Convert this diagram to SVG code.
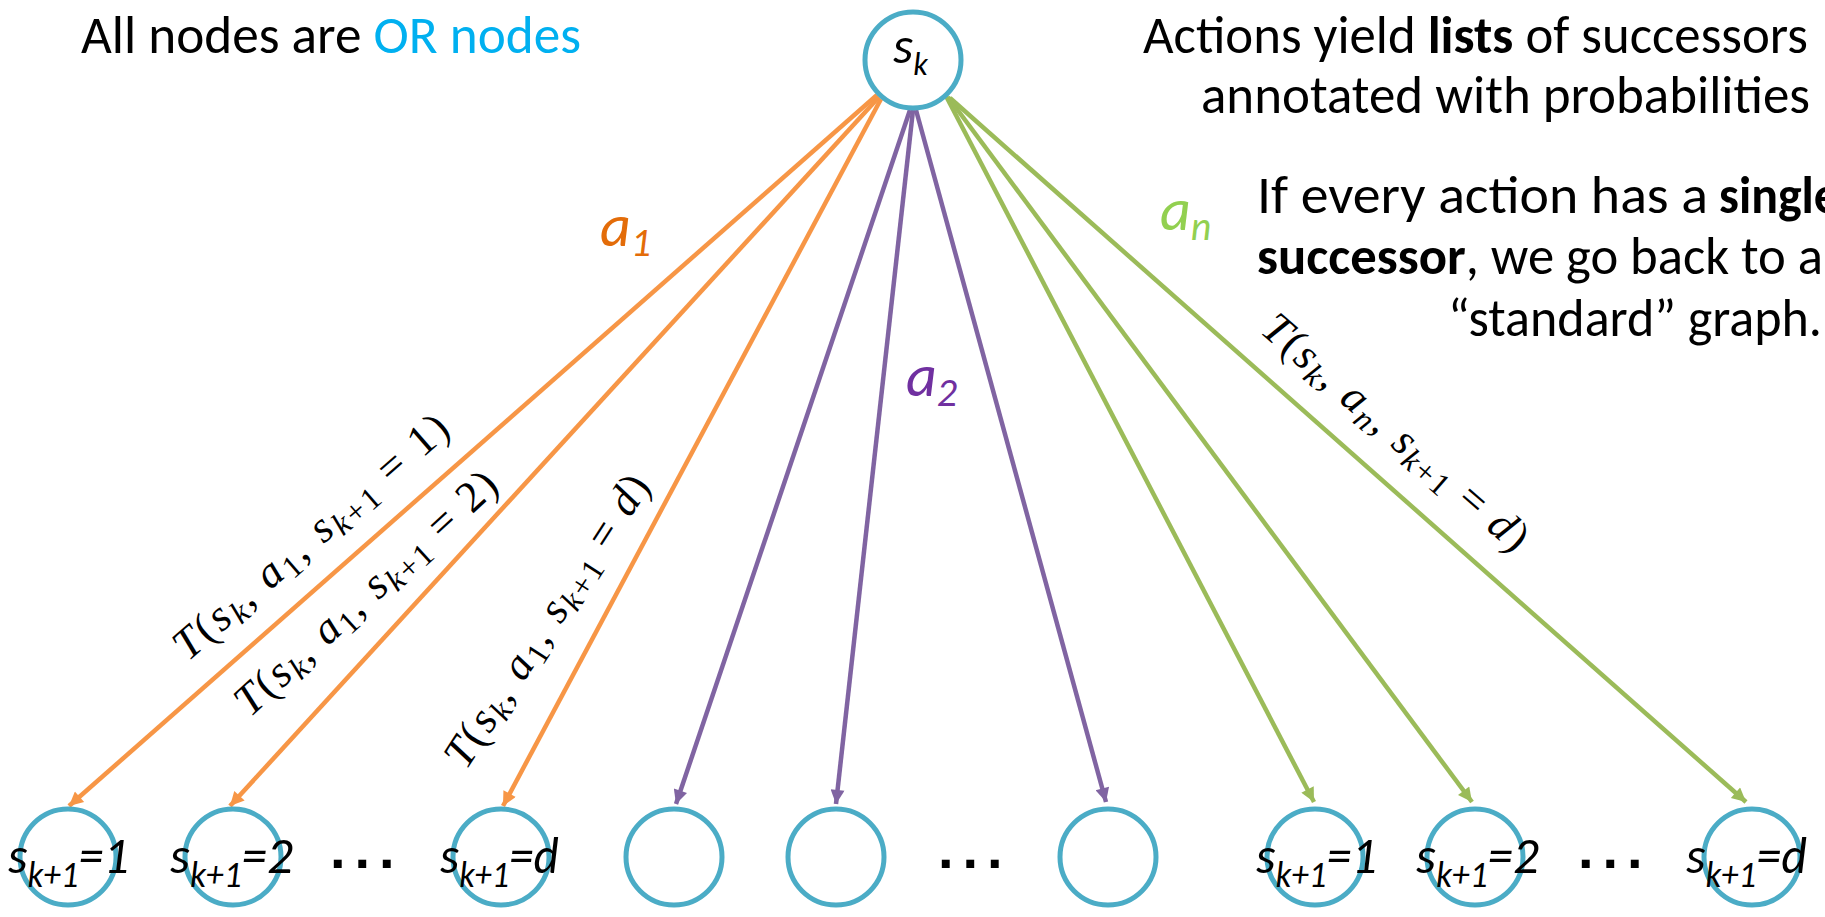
<svg xmlns="http://www.w3.org/2000/svg" width="1825" height="917" viewBox="0 0 1825 917">
<style>
.node{fill:#fff;stroke:#4BACC6;stroke-width:5}
.txt{font-family:Carlito,Calibri,"Liberation Sans",Arial,sans-serif;font-size:53px;fill:#000}
.b{font-weight:bold}
.lbl{font-family:Carlito,Calibri,"Liberation Sans",Arial,sans-serif;font-style:italic;font-size:52px;fill:#000}
.act{font-family:Carlito,Calibri,"Liberation Sans",Arial,sans-serif;font-style:italic;font-size:60px}
.math{font-family:"Liberation Serif","Times New Roman",serif;font-size:44px;fill:#000}
.i{font-style:italic}
.dots{font-family:"Liberation Sans",Arial,sans-serif;font-weight:bold;font-size:56px;fill:#000;letter-spacing:9px}
.or{stroke:#F79646;stroke-width:4.5;fill:none}
.pu{stroke:#8064A2;stroke-width:4.5;fill:none}
.gr{stroke:#9BBB59;stroke-width:4.5;fill:none}
</style>
<defs>
<marker id="ao" viewBox="0 0 10 10" refX="10" refY="5" markerUnits="userSpaceOnUse" markerWidth="17" markerHeight="14" orient="auto"><path d="M0,0 L10,5 L0,10 z" fill="#F79646"/></marker>
<marker id="ap" viewBox="0 0 10 10" refX="10" refY="5" markerUnits="userSpaceOnUse" markerWidth="17" markerHeight="14" orient="auto"><path d="M0,0 L10,5 L0,10 z" fill="#8064A2"/></marker>
<marker id="ag" viewBox="0 0 10 10" refX="10" refY="5" markerUnits="userSpaceOnUse" markerWidth="17" markerHeight="14" orient="auto"><path d="M0,0 L10,5 L0,10 z" fill="#9BBB59"/></marker>
</defs>
<rect width="1825" height="917" fill="#fff"/>

<g id="connectors">
<line class="or" x1="877" y1="95" x2="69" y2="806" marker-end="url(#ao)"/>
<line class="or" x1="879" y1="97" x2="230" y2="806" marker-end="url(#ao)"/>
<line class="or" x1="881" y1="99" x2="503" y2="806" marker-end="url(#ao)"/>
<line class="pu" x1="910" y1="110" x2="676" y2="804" marker-end="url(#ap)"/>
<line class="pu" x1="913" y1="110" x2="836" y2="804" marker-end="url(#ap)"/>
<line class="pu" x1="916" y1="110" x2="1106" y2="802" marker-end="url(#ap)"/>
<line class="gr" x1="946" y1="96" x2="1314" y2="802" marker-end="url(#ag)"/>
<line class="gr" x1="948" y1="97" x2="1472" y2="802" marker-end="url(#ag)"/>
<line class="gr" x1="950" y1="98" x2="1746" y2="802" marker-end="url(#ag)"/>
</g>

<g id="connector-labels">
<text class="act" x="600" y="246" fill="#E36C09">a<tspan font-size="40" dy="10">1</tspan></text>
<text class="act" x="906" y="396" fill="#7030A0">a<tspan font-size="40" dy="10">2</tspan></text>
<text class="act" x="1160" y="230" fill="#92D050">a<tspan font-size="40" dy="10">n</tspan></text>

<text class="math" transform="translate(188,662) rotate(-41)" textLength="350"><tspan class="i">T</tspan>(<tspan class="i">s</tspan><tspan class="i" font-size="32" dy="7">k</tspan><tspan dy="-7">, </tspan><tspan class="i">a</tspan><tspan font-size="32" dy="7">1</tspan><tspan dy="-7">, </tspan><tspan class="i">s</tspan><tspan font-size="32" dy="7"><tspan class="i">k</tspan>+1</tspan><tspan dy="-7"> = 1)</tspan></text>
<text class="math" transform="translate(250,718) rotate(-42.5)" textLength="340"><tspan class="i">T</tspan>(<tspan class="i">s</tspan><tspan class="i" font-size="32" dy="7">k</tspan><tspan dy="-7">, </tspan><tspan class="i">a</tspan><tspan font-size="32" dy="7">1</tspan><tspan dy="-7">, </tspan><tspan class="i">s</tspan><tspan font-size="32" dy="7"><tspan class="i">k</tspan>+1</tspan><tspan dy="-7"> = 2)</tspan></text>
<text class="math" transform="translate(466,771) rotate(-57)" textLength="340"><tspan class="i">T</tspan>(<tspan class="i">s</tspan><tspan class="i" font-size="32" dy="7">k</tspan><tspan dy="-7">, </tspan><tspan class="i">a</tspan><tspan font-size="32" dy="7">1</tspan><tspan dy="-7">, </tspan><tspan class="i">s</tspan><tspan font-size="32" dy="7"><tspan class="i">k</tspan>+1</tspan><tspan dy="-7"> = </tspan><tspan class="i">d</tspan>)</text>
<text class="math" transform="translate(1259,332) rotate(41)" textLength="338"><tspan class="i">T</tspan>(<tspan class="i">s</tspan><tspan class="i" font-size="32" dy="7">k</tspan><tspan dy="-7">, </tspan><tspan class="i">a</tspan><tspan class="i" font-size="32" dy="7">n</tspan><tspan dy="-7">, </tspan><tspan class="i">s</tspan><tspan font-size="32" dy="7"><tspan class="i">k</tspan>+1</tspan><tspan dy="-7"> = </tspan><tspan class="i">d</tspan>)</text>
</g>

<g id="node-root">
<circle class="node" cx="913" cy="60" r="48"/>
<text class="lbl" x="893" y="63" font-size="50">s<tspan font-size="32" dy="12">k</tspan></text>
</g>

<g id="node-a1-1"><circle class="node" cx="68" cy="857" r="48"/>
<text class="lbl" x="8" y="873" textLength="121" lengthAdjust="spacingAndGlyphs">s<tspan font-size="36" dy="14">k+1</tspan><tspan dy="-14">=1</tspan></text></g>
<g id="node-a1-2"><circle class="node" cx="233" cy="857" r="48"/>
<text class="lbl" x="170" y="873" textLength="123" lengthAdjust="spacingAndGlyphs">s<tspan font-size="36" dy="14">k+1</tspan><tspan dy="-14">=2</tspan></text></g>
<g id="node-a1-d"><circle class="node" cx="501" cy="857" r="48"/>
<text class="lbl" x="440" y="873" textLength="119" lengthAdjust="spacingAndGlyphs">s<tspan font-size="36" dy="14">k+1</tspan><tspan dy="-14">=d</tspan></text></g>
<g id="node-a2-1"><circle class="node" cx="674" cy="857" r="48"/></g>
<g id="node-a2-2"><circle class="node" cx="836" cy="857" r="48"/></g>
<g id="node-a2-3"><circle class="node" cx="1108" cy="857" r="48"/></g>
<g id="node-an-1"><circle class="node" cx="1315" cy="857" r="48"/>
<text class="lbl" x="1256" y="873" textLength="121" lengthAdjust="spacingAndGlyphs">s<tspan font-size="36" dy="14">k+1</tspan><tspan dy="-14">=1</tspan></text></g>
<g id="node-an-2"><circle class="node" cx="1475" cy="857" r="48"/>
<text class="lbl" x="1416" y="873" textLength="123" lengthAdjust="spacingAndGlyphs">s<tspan font-size="36" dy="14">k+1</tspan><tspan dy="-14">=2</tspan></text></g>
<g id="node-an-d"><circle class="node" cx="1752" cy="857" r="48"/>
<text class="lbl" x="1686" y="873" textLength="121" lengthAdjust="spacingAndGlyphs">s<tspan font-size="36" dy="14">k+1</tspan><tspan dy="-14">=d</tspan></text></g>

<g id="ellipses">
<text class="dots" x="330" y="868">...</text>
<text class="dots" x="938" y="868">...</text>
<text class="dots" x="1578" y="868">...</text>
</g>

<g id="notes">
<text class="txt" x="81" y="53" textLength="500" lengthAdjust="spacingAndGlyphs">All nodes are <tspan fill="#00B0F0">OR nodes</tspan></text>
<text class="txt" x="1143" y="53" textLength="665" lengthAdjust="spacingAndGlyphs">Actions yield <tspan class="b">lists</tspan> of successors</text>
<text class="txt" x="1201" y="113" textLength="609" lengthAdjust="spacingAndGlyphs">annotated with probabilities</text>
<text class="txt" x="1257" y="213" textLength="451" lengthAdjust="spacingAndGlyphs">If every action has a</text>
<text class="txt b" x="1719" y="213" textLength="120" lengthAdjust="spacingAndGlyphs">single</text>
<text class="txt" x="1257" y="274" textLength="566" lengthAdjust="spacingAndGlyphs"><tspan class="b">successor</tspan>, we go back to a</text>
<text class="txt" x="1448" y="336" textLength="374" lengthAdjust="spacingAndGlyphs">“standard” graph.</text>
</g>
</svg>
